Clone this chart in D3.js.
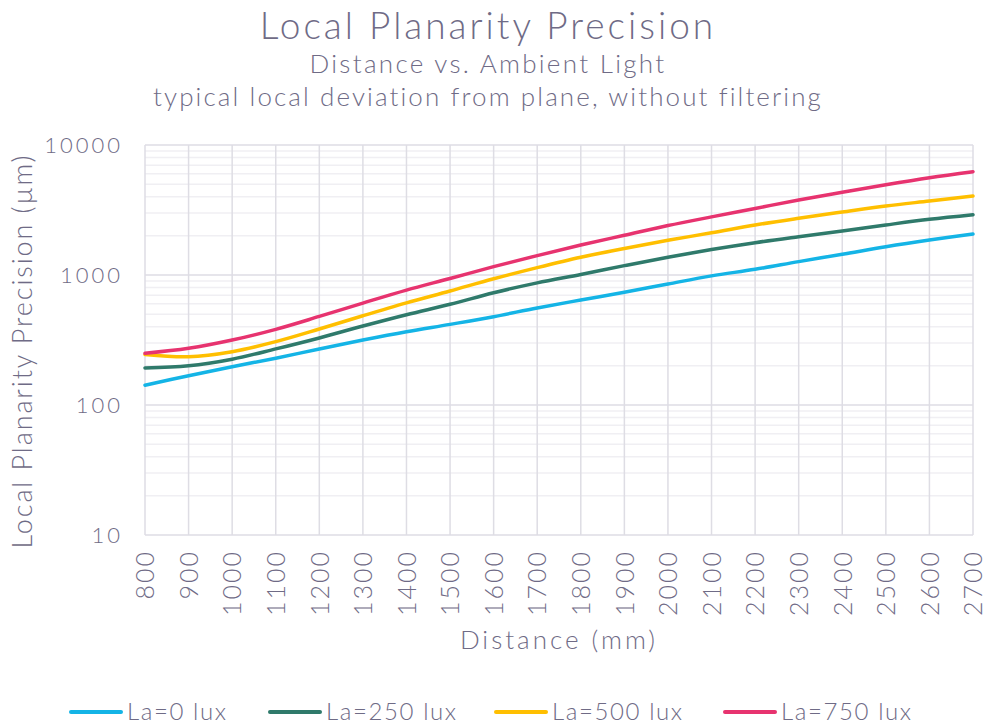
<!DOCTYPE html>
<html><head><meta charset="utf-8">
<script src="https://cdn.jsdelivr.net/npm/d3@7"></script>
<style>
body{margin:0;background:#fff;}
text{font-family:Lato,"Open Sans",sans-serif;font-weight:300;fill:#6f6b86;}
</style></head>
<body><svg id="c" width="987" height="725"></svg>
<script>
const distances = [800,900,1000,1100,1200,1300,1400,1500,1600,1700,1800,1900,2000,2100,2200,2300,2400,2500,2600,2700];
const seriesNames = ["La=0 lux","La=250 lux","La=500 lux","La=750 lux"];
const la0   = [142,168,197,229,270,316,366,417,478,558,642,736,853,985,1106,1267,1443,1651,1859,2066];
const la250 = [193,200,225,270,328,405,495,595,730,870,1010,1180,1370,1570,1773,1971,2180,2425,2682,2911];
const la500 = [245,235,257,307,384,486,610,753,935,1140,1370,1600,1850,2110,2425,2731,3050,3394,3709,4053];
const la750 = [250,273,316,382,480,608,765,940,1160,1410,1700,2020,2400,2800,3250,3776,4330,4950,5605,6236];
const yTicks = [10,100,1000,10000];
const colors = ["#14b4e6","#2f7a6b","#ffbf00","#e7336f"];
const seriesValues = [la0,la250,la500,la750];

const svg = d3.select("#c");
const x = d3.scaleLinear().domain([800,2700]).range([145,973]);
const y = d3.scaleLog().domain([10,10000]).range([535,145]);

const minor = [];
for (let d=10; d<10000; d*=10) for (let k=2;k<=9;k++) minor.push(d*k);
svg.append("g").selectAll("line").data(minor).join("line")
  .attr("x1",145).attr("x2",973).attr("y1",d=>y(d)).attr("y2",d=>y(d))
  .attr("stroke","#f0eff3").attr("stroke-width",1.5);
svg.append("g").selectAll("line").data(distances).join("line")
  .attr("x1",d=>x(d)).attr("x2",d=>x(d)).attr("y1",145).attr("y2",535)
  .attr("stroke","#dedde4").attr("stroke-width",1.5);
svg.append("g").selectAll("line").data(yTicks).join("line")
  .attr("x1",145).attr("x2",973).attr("y1",d=>y(d)).attr("y2",d=>y(d))
  .attr("stroke","#dedde4").attr("stroke-width",1.5);

const yAxis = d3.axisLeft(y).tickValues(yTicks).tickFormat(d3.format("d")).tickSize(0).tickPadding(22);
const gy = svg.append("g").attr("transform","translate(145,0)").call(yAxis);
gy.select(".domain").remove();
gy.selectAll("text").style("font-size","22px").style("letter-spacing","3px").style("font-family","Lato, 'Open Sans', sans-serif").attr("fill","#6f6b86").attr("dy","0.35em");

const xAxis = d3.axisBottom(x).tickValues(distances).tickFormat(d3.format("d")).tickSize(0);
const gx = svg.append("g").attr("transform","translate(0,535)").call(xAxis);
gx.select(".domain").remove();
gx.selectAll("text").style("font-size","25px").style("letter-spacing","2px").style("font-family","Lato, 'Open Sans', sans-serif").attr("fill","#6f6b86")
  .attr("transform","rotate(-90)").attr("text-anchor","end").attr("x",-15).attr("y",0).attr("dy","0.35em");

const line = d3.line().x((d,i)=>x(distances[i])).y(d=>y(d)).curve(d3.curveCatmullRom);
seriesValues.forEach((vals,i)=>{
  svg.append("path").datum(vals).attr("d",line).attr("fill","none")
    .attr("stroke",colors[i]).attr("stroke-width",3.5).attr("stroke-linejoin","round").attr("stroke-linecap","round");
});

svg.append("text").attr("x",488).attr("y",39).attr("text-anchor","middle").style("font-size","37px").style("letter-spacing","3px").text("Local Planarity Precision");
svg.append("text").attr("x",488).attr("y",73).attr("text-anchor","middle").style("font-size","26px").style("letter-spacing","2.3px").text("Distance vs. Ambient Light");
svg.append("text").attr("x",488).attr("y",106).attr("text-anchor","middle").style("font-size","26px").style("letter-spacing","2.1px").text("typical local deviation from plane, without filtering");
svg.append("text").attr("x",559).attr("y",649).attr("text-anchor","middle").style("font-size","26px").style("letter-spacing","3px").text("Distance (mm)");
svg.append("text").attr("transform","translate(32,351) rotate(-90)").attr("text-anchor","middle").style("font-size","27px").style("letter-spacing","1.9px").text("Local Planarity Precision (µm)");

const legX = [69,268,494,723];
seriesNames.forEach((n,i)=>{
  svg.append("line").attr("x1",legX[i]+2).attr("x2",legX[i]+52).attr("y1",712).attr("y2",712)
    .attr("stroke",colors[i]).attr("stroke-width",4).attr("stroke-linecap","round");
  svg.append("text").attr("x",legX[i]+58).attr("y",720).style("font-size","24px").style("letter-spacing","1.6px").text(n);
});
</script></body></html>
